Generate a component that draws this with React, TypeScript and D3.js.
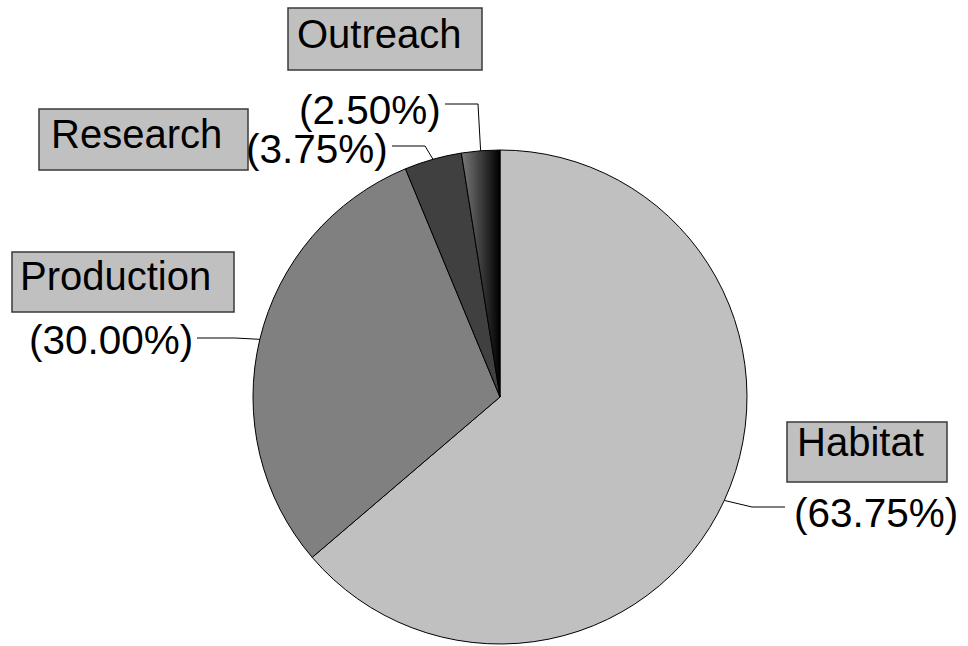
import React from "react";
import * as d3 from "d3";

const categories = ["Habitat", "Production", "Research", "Outreach"];
const values = [63.75, 30.0, 3.75, 2.5];
const percentLabels = ["(63.75%)", "(30.00%)", "(3.75%)", "(2.50%)"];
const fills = ["#c0c0c0", "#808080", "#404040", "url(#outreachGrad)"];

// layout (positions of label boxes / percent texts / leader elbows)
const boxLayout = [
  { x: 787, y: 422, w: 160, h: 60, tx: 797, ty: 456 },
  { x: 12, y: 252, w: 222, h: 60, tx: 20, ty: 290 },
  { x: 39, y: 109, w: 209, h: 61, tx: 51, ty: 148 },
  { x: 288, y: 8, w: 194, h: 62, tx: 297, ty: 48 },
];
const pctLayout = [
  { x: 794, y: 527, lx: 785, ly: 507, ex: 752, ey: 507 },
  { x: 29, y: 354, lx: 197, ly: 338, ex: 235, ey: 338 },
  { x: 246, y: 163, lx: 392, ly: 146, ex: 425, ey: 146 },
  { x: 299, y: 124, lx: 445, ly: 104, ex: 478, ey: 104 },
];

export default function App() {
  const width = 968;
  const height = 646;
  const cx = 500;
  const cy = 397;
  const r = 247;

  const pie = d3.pie<number>().sort(null).value((d) => d);
  const arcs = pie(values);
  const arcGen = d3.arc<d3.PieArcDatum<number>>().innerRadius(0).outerRadius(r);
  const edgeArc = d3.arc<d3.PieArcDatum<number>>().innerRadius(r).outerRadius(r);

  const font = "'Liberation Sans', Arial, Helvetica, sans-serif";

  return (
    <svg
      width={width}
      height={height}
      style={{ position: "absolute", left: 0, top: 0 }}
      viewBox={`0 0 ${width} ${height}`}
    >
      <defs>
        <linearGradient id="outreachGrad" x1="0" y1="0" x2="1" y2="0">
          <stop offset="0%" stopColor="#7a7a7a" />
          <stop offset="100%" stopColor="#000000" />
        </linearGradient>
      </defs>
      <rect x={0} y={0} width={width} height={height} fill="#ffffff" />
      <g transform={`translate(${cx},${cy})`}>
        {arcs.map((a, i) => (
          <path
            key={categories[i]}
            d={arcGen(a) || ""}
            fill={fills[i]}
            stroke="#000"
            strokeWidth={1}
          />
        ))}
      </g>
      {arcs.map((a, i) => {
        const [px, py] = edgeArc.centroid(a);
        const p = pctLayout[i];
        return (
          <polyline
            key={"l" + i}
            points={`${p.lx},${p.ly} ${p.ex},${p.ey} ${cx + px},${cy + py}`}
            fill="none"
            stroke="#000"
            strokeWidth={1}
          />
        );
      })}
      {categories.map((c, i) => {
        const b = boxLayout[i];
        return (
          <g key={"b" + c}>
            <rect
              x={b.x}
              y={b.y}
              width={b.w}
              height={b.h}
              fill="#c0c0c0"
              stroke="#3a3a3a"
              strokeWidth={1.5}
            />
            <text x={b.tx} y={b.ty} fontFamily={font} fontSize={40} fill="#000">
              {c}
            </text>
          </g>
        );
      })}
      {percentLabels.map((t, i) => {
        const p = pctLayout[i];
        return (
          <text key={"p" + i} x={p.x} y={p.y} fontFamily={font} fontSize={40.5} fill="#000">
            {t}
          </text>
        );
      })}
    </svg>
  );
}
